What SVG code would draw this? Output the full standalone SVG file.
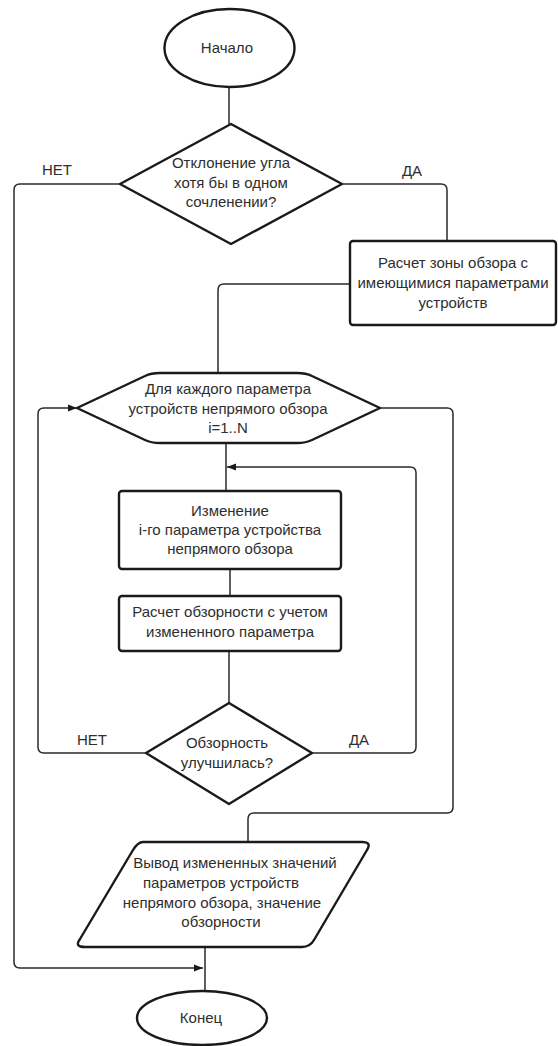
<svg xmlns="http://www.w3.org/2000/svg" width="558" height="1046" viewBox="0 0 558 1046">
<style>
.shape{fill:#fff;stroke:#1a1a1a;stroke-width:2.4;stroke-linejoin:round}
.conn{fill:none;stroke:#2a2a2a;stroke-width:1.5;stroke-linejoin:round}
text{font-family:"Liberation Sans",Arial,sans-serif;font-size:15px;fill:#2e2e2e;text-anchor:middle}
</style>
<defs>
<marker id="arr" viewBox="0 0 10 10" refX="10" refY="5" markerWidth="9" markerHeight="9" markerUnits="userSpaceOnUse" orient="auto">
<path d="M0,1 L10,5 L0,9 Z" fill="#1a1a1a"/>
</marker>
</defs>
<rect width="558" height="1046" fill="#fff"/>
<g id="connectors">
<path class="conn" d="M229,87 L229,124"/>
<path class="conn" d="M120,184 L20,184 Q14,184 14,190 L14,962 Q14,968 20,968 L203,968" marker-end="url(#arr)"/>
<path class="conn" d="M342,184 L441,184 Q447,184 447,190 L447,241"/>
<path class="conn" d="M350,284 L224,284 Q218,284 218,290 L218,373"/>
<path class="conn" d="M226,443 L226,491"/>
<path class="conn" d="M230,569 L230,596"/>
<path class="conn" d="M229,651 L229,703"/>
<path class="conn" d="M146,753 L44,753 Q38,753 38,747 L38,414 Q38,408 44,408 L77,408" marker-end="url(#arr)"/>
<path class="conn" d="M312,753 L410,753 Q416,753 416,747 L416,473 Q416,467 410,467 L227,467" marker-end="url(#arr)"/>
<path class="conn" d="M380,408 L447,408 Q453,408 453,414 L453,807 Q453,813 447,813 L254,813 Q248,813 248,819 L248,842"/>
<path class="conn" d="M205,947 L205,991"/>
</g>
<g id="start">
<ellipse class="shape" cx="229.5" cy="48" rx="65" ry="39"/>
<text x="227" y="53">Начало</text>
</g>
<g id="decision1">
<polygon class="shape" points="231,124 342,184 231,244 120,184"/>
<text x="231" y="168">Отклонение угла</text>
<text x="231" y="188">хотя бы в одном</text>
<text x="231" y="207">сочленении?</text>
</g>
<g id="label-no1"><text x="57" y="175">НЕТ</text></g>
<g id="label-yes1"><text x="412" y="176">ДА</text></g>
<g id="calc-zone">
<rect class="shape" x="350" y="241" width="206" height="84" rx="3"/>
<text x="453" y="268">Расчет зоны обзора с</text>
<text x="453" y="288">имеющимися параметрами</text>
<text x="453" y="308">устройств</text>
</g>
<g id="loop">
<path class="shape" d="M77,408 L145,376 Q151,373 160,373 L297,373 Q306,373 312,376 L380,408 L312,440 Q306,443 297,443 L160,443 Q151,443 145,440 Z"/>
<text x="228" y="394">Для каждого параметра</text>
<text x="228" y="414">устройств непрямого обзора</text>
<text x="228" y="433">i=1..N</text>
</g>
<g id="change-param">
<rect class="shape" x="119" y="491" width="222" height="78" rx="3"/>
<text x="230" y="516">Изменение</text>
<text x="230" y="535">i-го параметра устройства</text>
<text x="230" y="554">непрямого обзора</text>
</g>
<g id="calc-visibility">
<rect class="shape" x="119" y="596" width="222" height="55" rx="3"/>
<text x="230" y="617">Расчет обзорности с учетом</text>
<text x="230" y="637">измененного параметра</text>
</g>
<g id="decision2">
<polygon class="shape" points="229,703 312,753 229,804 146,753"/>
<text x="227" y="748">Обзорность</text>
<text x="227" y="768">улучшилась?</text>
</g>
<g id="label-no2"><text x="92" y="745">НЕТ</text></g>
<g id="label-yes2"><text x="359" y="745">ДА</text></g>
<g id="output">
<path class="shape" d="M143,842 L362,842 Q372,842 367,850 L314,940 Q310,947 302,947 L85,947 Q74,947 80,939 L133,850 Q138,842 143,842 Z"/>
<text x="235" y="868">Вывод измененных значений</text>
<text x="221" y="888">параметров устройств</text>
<text x="222" y="908">непрямого обзора, значение</text>
<text x="221" y="927">обзорности</text>
</g>
<g id="end">
<ellipse class="shape" cx="202" cy="1018" rx="65" ry="27"/>
<text x="201" y="1023">Конец</text>
</g>
</svg>
